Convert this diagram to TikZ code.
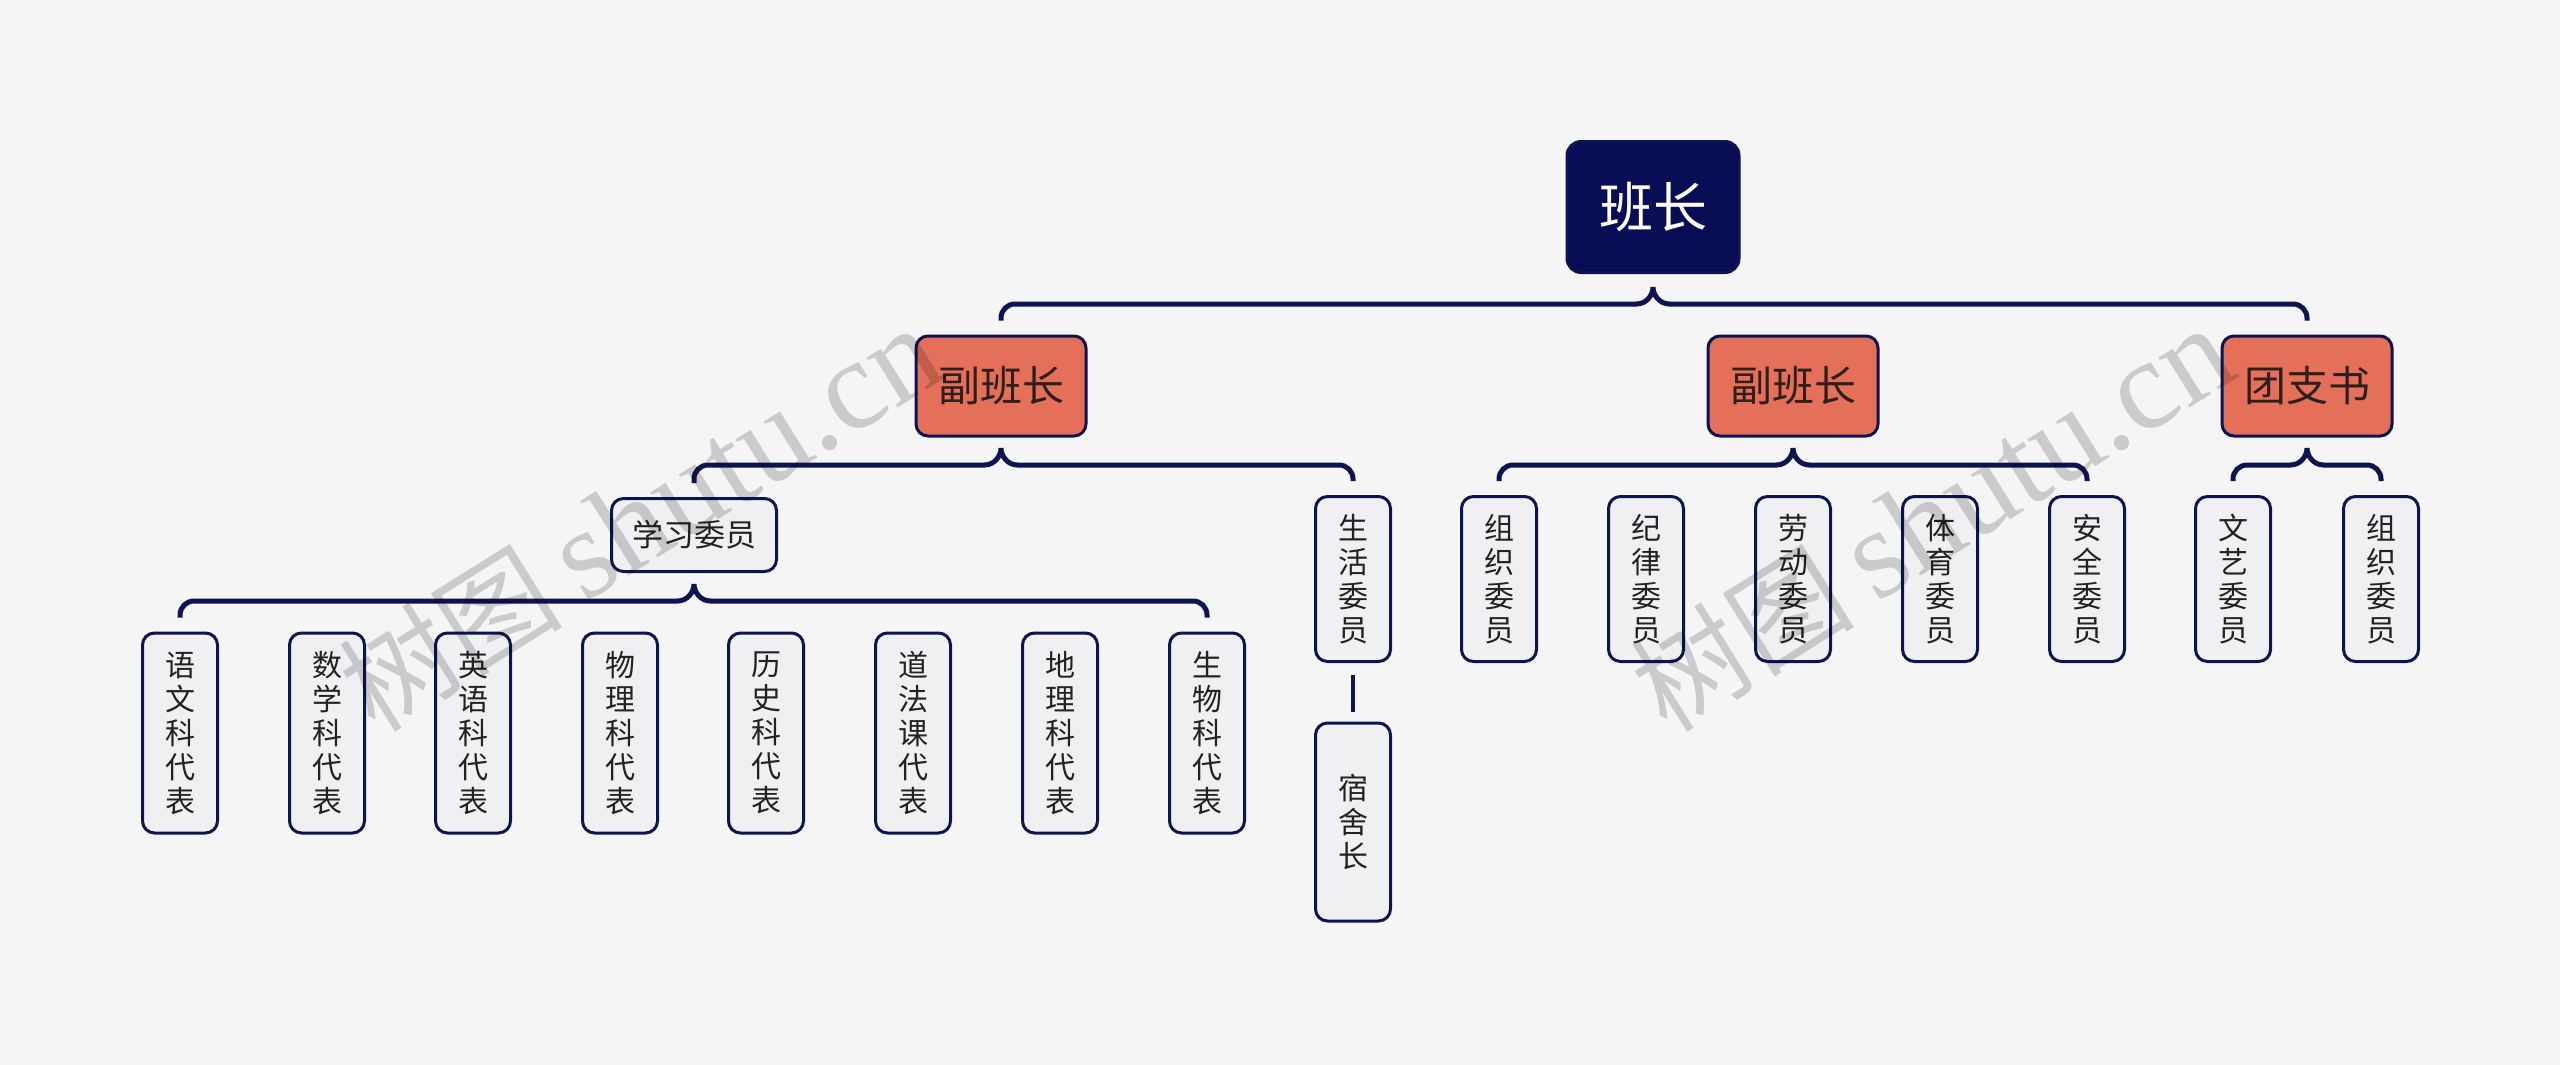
\documentclass[tikz,border=0pt]{standalone}
\usepackage{fontspec}
\newfontfamily\cjk{Noto Sans CJK SC}
\newfontfamily\wmserif{Liberation Serif}
\usetikzlibrary{calc}
\definecolor{bg}{HTML}{F5F5F5}
\definecolor{navy}{HTML}{080D55}
\definecolor{lnc}{HTML}{0E1450}
\definecolor{salmon}{HTML}{E4705A}
\definecolor{leaf}{HTML}{F0F0F2}
\definecolor{txt}{HTML}{222222}
\definecolor{ltxt}{HTML}{2E1E1C}
\newcommand\brk[4]{%
  \draw[brace, rounded corners=14pt] ([yshift=14pt]#2.north) -- (#2.north |- #4) -- ($(#1.south |- #4)+(-16,0)$);
  \draw[brace] ($(#1.south |- #4)+(-16.5,0)$) .. controls +(10,0) and +(0,8) .. ($(#1.south |- #4)+(0,-17)$)
     .. controls +(0,8) and +(-10,0) .. ($(#1.south |- #4)+(16.5,0)$);
  \draw[brace, rounded corners=14pt] ($(#1.south |- #4)+(16,0)$) -- (#3.north |- #4) -- ([yshift=14pt]#3.north);
}
\begin{document}
\begin{tikzpicture}[x=1pt,y=-1pt,
  box/.style={draw=lnc, line width=3pt, rounded corners=12pt, inner sep=0pt, align=center},
  rootbox/.style={box, fill=navy, minimum width=172pt, minimum height=131pt, text=white,
     font=\cjk\fontsize{54}{60}\selectfont, rounded corners=14pt},
  lonebox/.style={box, fill=salmon, minimum width=170pt, minimum height=100pt, text=ltxt,
     font=\cjk\fontsize{42}{46}\selectfont},
  hbox/.style={box, fill=leaf, minimum width=165pt, minimum height=73pt, text=txt,
     font=\cjk\fontsize{31}{34}\selectfont},
  vbox/.style={box, fill=leaf, minimum width=75pt, text=txt,
     font=\cjk\fontsize{30}{34}\selectfont},
  vfive/.style={vbox, minimum height=200pt},
  vfour/.style={vbox, minimum height=165pt},
  brace/.style={draw=lnc, line width=5pt},
  wm/.style={text=black, text opacity=0.17, rotate=32, inner sep=0pt}
]
\fill[bg] (0,0) rectangle (2560,1065);
\coordinate (y0) at (0,304);
\coordinate (y1) at (0,465);
\coordinate (y2) at (0,601);

\node[rootbox] (root) at (1653,207) {班长};
\node[lonebox] (vl) at (1001,386) {副班长};
\node[lonebox] (vm) at (1793,386) {副班长};
\node[lonebox] (tz) at (2307,386) {团支书};

\node[hbox] (xx) at (694,535) {学习委员};
\node[vfour] (sh) at (1353,579) {生\\活\\委\\员};
\node[vbox, minimum height=198pt] (ss) at (1353,822) {宿\\舍\\长};

\node[vfive] (s1) at (180,733) {语\\文\\科\\代\\表};
\node[vfive] (s2) at (327,733) {数\\学\\科\\代\\表};
\node[vfive] (s3) at (473,733) {英\\语\\科\\代\\表};
\node[vfive] (s4) at (620,733) {物\\理\\科\\代\\表};
\node[vfive] (s5) at (766,733) {历\\史\\科\\代\\表};
\node[vfive] (s6) at (913,733) {道\\法\\课\\代\\表};
\node[vfive] (s7) at (1060,733) {地\\理\\科\\代\\表};
\node[vfive] (s8) at (1207,733) {生\\物\\科\\代\\表};

\node[vfour] (m1) at (1499,579) {组\\织\\委\\员};
\node[vfour] (m2) at (1646,579) {纪\\律\\委\\员};
\node[vfour] (m3) at (1793,579) {劳\\动\\委\\员};
\node[vfour] (m4) at (1940,579) {体\\育\\委\\员};
\node[vfour] (m5) at (2087,579) {安\\全\\委\\员};

\node[vfour] (t1) at (2233,579) {文\\艺\\委\\员};
\node[vfour] (t2) at (2381,579) {组\\织\\委\\员};

\brk{root}{vl}{tz}{y0}
\brk{vl}{xx}{sh}{y1}
\brk{xx}{s1}{s8}{y2}
\brk{vm}{m1}{m5}{y1}
\brk{tz}{t1}{t2}{y1}
\draw[draw=lnc, line width=4pt] ([yshift=-12pt]sh.south) -- ([yshift=10pt]ss.north);

\node[wm] (wm1) at (640,519) {{\cjk\fontsize{112}{118}\selectfont 树图}\hspace{22pt}{\wmserif\fontsize{128}{130}\selectfont shutu.cn}};
\node[wm] (wm2) at (1932,519) {{\cjk\fontsize{112}{118}\selectfont 树图}\hspace{22pt}{\wmserif\fontsize{128}{130}\selectfont shutu.cn}};
\end{tikzpicture}
\end{document}
